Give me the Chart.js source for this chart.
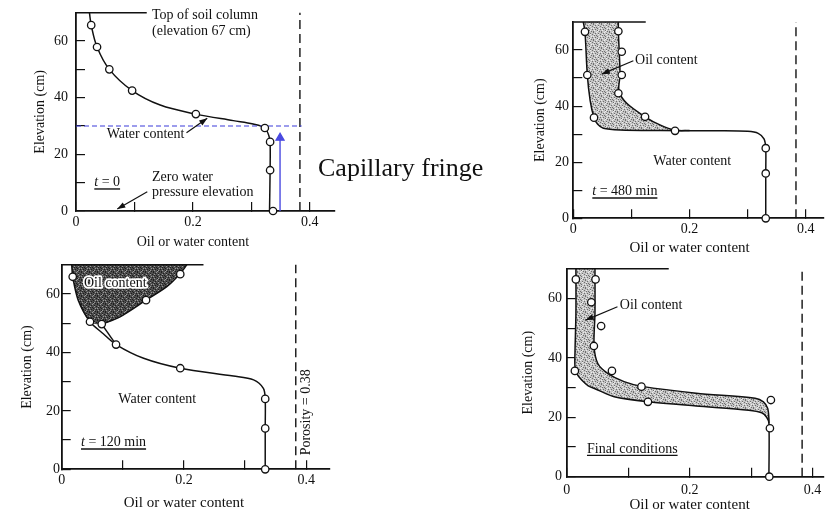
<!DOCTYPE html>
<html><head><meta charset="utf-8">
<script src="https://cdn.jsdelivr.net/npm/chart.js@4.4.1/dist/chart.umd.min.js"></script>
<style>
html,body{margin:0;padding:0;background:#fff;}
#wrap{position:relative;width:829px;height:518px;overflow:hidden;background:#fff;}
canvas{position:absolute;left:0;top:0;}
#cap{position:absolute;left:318px;top:153px;font:26px 'Liberation Serif','Times New Roman',serif;color:#111;white-space:nowrap;line-height:30px;}
</style></head><body>
<div id="wrap">
<canvas id="c1" width="829" height="518"></canvas>
<canvas id="c2" width="829" height="518"></canvas>
<canvas id="c3" width="829" height="518"></canvas>
<canvas id="c4" width="829" height="518"></canvas>
<div id="cap">Capillary fringe</div>
</div>
<script>
// ---------- shared axis content ----------
const xTickValues = [0, 0.1, 0.2, 0.3, 0.4];
const xTickLabels = ['0', '', '0.2', '', '0.4'];
const yTickValues = [0, 10, 20, 30, 40, 50, 60];
const yTickLabels = ['0', '', '20', '', '40', '', '60'];
const xTitle = 'Oil or water content';
const yTitle = 'Elevation (cm)';
const xTitleCentre = 0.2;
const porosity = 0.383;
const columnTop = 70;

// ---------- panel 1 : t = 0 ----------
const p1WaterCurve = [[0.023,70],[0.026,65.6],[0.036,57.9],[0.057,50],[0.096,42.5],[0.144,37.4],[0.205,34.2],[0.269,31.9],[0.303,30.7],[0.323,29.3],[0.330,26.5],[0.332,24.4],[0.332,14.4],[0.331,0]];
const p1WaterObs = [[0.026,65.6],[0.036,57.9],[0.057,50],[0.096,42.5],[0.205,34.2],[0.323,29.3],[0.332,24.4],[0.332,14.4],[0.337,0]];
const p1TopLineEnd = 0.121;
const p1FringeLevel = 30;
const p1FringeEnd = 0.386;
const p1ArrowX = 0.349;
const p1ArrowTip = 25.8;

// ---------- panel 2 : t = 480 min ----------
const p2WaterCurve = [[0.0172,70],[0.0201,66.5],[0.0241,51.1],[0.029,42],[0.0356,35.9],[0.042,33.5],[0.0516,32.1],[0.0804,31.5],[0.15,31.3],[0.25,31.2],[0.3,31.0],[0.318,30.3],[0.328,28.3],[0.331,25],[0.331,16],[0.331,0]];
const p2TotalCurve = [[0.0775,70],[0.0775,66.7],[0.079,59.4],[0.0804,51.1],[0.0785,45.5],[0.0919,41],[0.1234,36.2],[0.149,33.3],[0.175,31.4],[0.2,31.3]];
const p2Obs = [[0.0201,66.5],[0.0775,66.7],[0.0833,59.4],[0.0241,51.1],[0.0833,51.1],[0.0775,44.6],[0.0356,35.9],[0.1234,36.2],[0.175,31.2],[0.331,25],[0.331,16],[0.331,0]];
const p2TopLineEnd = 0.1246;

// ---------- panel 3 : t = 120 min ----------
const p3WaterCurve = [[0.0164,70],[0.018,65.9],[0.027,57.9],[0.0463,50.5],[0.068,46.4],[0.0889,42.7],[0.134,38],[0.194,34.6],[0.281,31.9],[0.314,30.6],[0.330,27.7],[0.333,24.1],[0.333,14],[0.333,0]];
const p3TotalCurve = [[0.2047,70],[0.194,67],[0.172,62.5],[0.138,57.9],[0.0955,52.2],[0.0655,49.7]];
const p3Connector = [[0.0655,49.7],[0.0889,42.7]];
const p3Obs = [[0.018,65.9],[0.194,66.8],[0.138,57.9],[0.0463,50.5],[0.0655,49.7],[0.0889,42.7],[0.194,34.6],[0.333,24.1],[0.333,14],[0.333,0]];
const p3TopLineEnd = 0.232;

// ---------- panel 4 : final conditions ----------
const p4WaterCurve = [[0.015,70],[0.015,55],[0.0135,42],[0.0135,37],[0.017,34.5],[0.024,32.6],[0.035,30.6],[0.0506,29.2],[0.0773,26.9],[0.1333,25.2],[0.2106,23.8],[0.296,22.4],[0.3173,21.5],[0.3253,20.0],[0.329,18.0],[0.329,0]];
const p4TotalCurve = [[0.046,70],[0.046,55],[0.0445,44],[0.0506,38.1],[0.0666,34.8],[0.0933,32.0],[0.1226,30.4],[0.2106,28.1],[0.3066,26.4],[0.32,25.2],[0.3269,23.0],[0.329,19.5],[0.329,18.0]];
const p4Obs = [[0.0149,66.4],[0.0469,66.4],[0.040,58.7],[0.056,50.7],[0.0442,44.0],[0.0133,35.6],[0.0736,35.6],[0.1216,30.3],[0.1322,25.2],[0.3322,25.8],[0.3306,16.3],[0.3296,0]];
const p4TopLineEnd = 0.166;

// ---------- annotation texts (data coordinates) ----------
const p1Texts = [
  {x:0.130, y:69.2, text:'Top of soil column'},
  {x:0.130, y:63.5, text:'(elevation 67 cm)'},
  {x:0.0524, y:27.1, text:'Water content'},
  {x:0.0313, y:10.0, parts:[['t',true],[' = 0',false]], underline:true},
  {x:0.130, y:11.8, text:'Zero water'},
  {x:0.130, y:6.5, text:'pressure elevation'}
];
const p1Arrows = [{from:[0.189,27.6], to:[0.2245,32.7]}, {from:[0.1219,6.8], to:[0.0706,0.7]}];
const p2Texts = [
  {x:0.1062, y:56.4, text:'Oil content'},
  {x:0.1377, y:20.2, text:'Water content'},
  {x:0.0327, y:9.5, parts:[['t',true],[' = 480 min',false]], underline:true}
];
const p2Arrows = [{from:[0.1033,56.2], to:[0.0489,51.4]}];
const p3Texts = [
  {x:0.0365, y:63.7, text:'Oil content', halo:true},
  {x:0.0927, y:24.1, text:'Water content'},
  {x:0.0316, y:9.1, parts:[['t',true],[' = 120 min',false]], underline:true},
  {x:0.401, y:19.5, text:'Porosity = 0.38', rotate:true}
];
const p3Arrows = [];
const p4Texts = [
  {x:0.0864, y:57.8, text:'Oil content'},
  {x:0.033, y:9.3, text:'Final conditions', underline:true}
];
const p4Arrows = [{from:[0.0826,57.2], to:[0.0309,52.7]}];

// ---------- helpers ----------
const FONT = "'Liberation Serif','Times New Roman',serif";
Chart.defaults.font.family = FONT;
Chart.defaults.color = '#111';
const INK = '#111';
const pts = arr => arr.map(([x, y]) => ({x, y}));

function stipple(canvasId, base, dark, light) {
  const c = document.createElement('canvas'); c.width = 8; c.height = 8;
  const g = c.getContext('2d');
  g.fillStyle = base; g.fillRect(0, 0, 8, 8);
  const map = ['.x..o...','...x..x.','x.o...o.','..x.x...','.o...x.o','x..x....','..o..xo.','.x...o.x'];
  map.forEach((row, j) => row.split('').forEach((ch, i) => {
    if (ch === 'x') { g.fillStyle = dark; g.fillRect(i, j, 1, 1); }
    if (ch === 'o') { g.fillStyle = light; g.fillRect(i, j, 1, 1); }
  }));
  return document.getElementById(canvasId).getContext('2d').createPattern(c, 'repeat');
}

function lineDs(arr, extra) {
  return Object.assign({type:'line', data:pts(arr), borderColor:INK, borderWidth:1.5, pointRadius:0,
    fill:false, tension:0, clip:6, order:5}, extra || {});
}
function obsDs(arr) {
  return {type:'scatter', data:pts(arr), pointRadius:3.7, pointHoverRadius:3.7, pointBackgroundColor:'#fff',
    pointBorderColor:INK, pointBorderWidth:1.3, showLine:false, clip:false, order:0};
}
function bandDs(total, water, pattern) {
  const lastY = total[total.length - 1][1];
  const poly = total.concat(water.filter(p => p[1] > lastY).reverse());
  return {type:'line', data:pts(poly), borderWidth:0, borderColor:'rgba(0,0,0,0)', backgroundColor:pattern,
    fill:'shape', pointRadius:0, tension:0.3, clip:6, order:20};
}
function frameDs(topEnd) {
  return [
    lineDs([[0, columnTop], [topEnd, columnTop]], {borderWidth:1.6}),
    lineDs([[porosity, 0], [porosity, columnTop]], {borderDash:[9, 5], borderWidth:1.4})
  ];
}

function notesPlugin(texts, arrows, xTitleSize, xTitleDy) {
  return {
    id: 'notes',
    afterDatasetsDraw(chart) {
      const {ctx} = chart; const sx = chart.scales.x, sy = chart.scales.y;
      ctx.save();
      ctx.textBaseline = 'middle';
      // x axis title, centred under the 0.2 tick like the original figure
      ctx.fillStyle = INK; ctx.textAlign = 'center';
      ctx.font = xTitleSize + 'px ' + FONT;
      ctx.fillText(xTitle, sx.getPixelForValue(xTitleCentre), sy.getPixelForValue(0) + xTitleDy);
      for (const t of texts) {
        const px = sx.getPixelForValue(t.x), py = sy.getPixelForValue(t.y);
        const size = t.size || 14;
        ctx.fillStyle = INK;
        if (t.rotate) {
          ctx.save(); ctx.translate(px, py); ctx.rotate(-Math.PI / 2);
          ctx.font = size + 'px ' + FONT; ctx.textAlign = 'center';
          ctx.fillText(t.text, 0, 0); ctx.restore(); continue;
        }
        ctx.textAlign = 'left';
        let cx = px;
        const parts = t.parts || [[t.text, false]];
        for (const [s, it] of parts) {
          ctx.font = (it ? 'italic ' : '') + size + 'px ' + FONT;
          if (t.halo) { ctx.lineWidth = 3.5; ctx.strokeStyle = '#fff'; ctx.lineJoin = 'round'; ctx.strokeText(s, cx, py); }
          ctx.fillStyle = INK; ctx.fillText(s, cx, py);
          cx += ctx.measureText(s).width;
        }
        if (t.underline) {
          ctx.strokeStyle = INK; ctx.lineWidth = 1.4;
          ctx.beginPath(); ctx.moveTo(px, py + size * 0.45); ctx.lineTo(cx, py + size * 0.45); ctx.stroke();
        }
      }
      for (const a of arrows) {
        const x1 = sx.getPixelForValue(a.from[0]), y1 = sy.getPixelForValue(a.from[1]);
        const x2 = sx.getPixelForValue(a.to[0]), y2 = sy.getPixelForValue(a.to[1]);
        ctx.strokeStyle = INK; ctx.fillStyle = INK; ctx.lineWidth = 1.2;
        ctx.beginPath(); ctx.moveTo(x1, y1); ctx.lineTo(x2, y2); ctx.stroke();
        const ang = Math.atan2(y2 - y1, x2 - x1), L = 8, W = 3;
        const c = Math.cos(ang), s = Math.sin(ang);
        ctx.beginPath(); ctx.moveTo(x2, y2);
        ctx.lineTo(x2 - L * c + W * s, y2 - L * s - W * c);
        ctx.lineTo(x2 - L * c - W * s, y2 - L * s + W * c);
        ctx.closePath(); ctx.fill();
      }
      ctx.restore();
    }
  };
}

function makeChart(id, cfg) {
  const zeroPad = s => { s.paddingLeft = 0; s.paddingRight = 0; s.paddingTop = 0; s.paddingBottom = 0; };
  return new Chart(document.getElementById(id), {
    type: 'scatter',
    data: {datasets: cfg.datasets},
    options: {
      responsive: false, animation: false, devicePixelRatio: 1,
      layout: {padding: cfg.padding},
      plugins: {legend: {display: false}, tooltip: {enabled: false}},
      events: [],
      scales: {
        x: {
          type: 'linear', position: 'bottom', min: 0, max: cfg.xMax,
          afterFit: s => { s.height = cfg.H; zeroPad(s); },
          afterBuildTicks: s => { s.ticks = xTickValues.map(v => ({value: v})); },
          ticks: {callback: (v, i) => xTickLabels[i], padding: cfg.xPad, maxRotation: 0, autoSkip: false,
                  font: {size: 14}, color: INK},
          grid: {drawOnChartArea: false, drawTicks: true, tickLength: -9, color: INK, lineWidth: 1.2},
          border: {display: true, color: INK, width: 1.8},
          title: {display: false}
        },
        y: {
          type: 'linear', position: 'left', min: 0, max: columnTop,
          afterFit: s => { s.width = cfg.W; zeroPad(s); },
          afterBuildTicks: s => { s.ticks = yTickValues.map(v => ({value: v})); },
          ticks: {callback: (v, i) => yTickLabels[i], padding: cfg.yPad, autoSkip: false, font: {size: 14}, color: INK},
          grid: {drawOnChartArea: false, drawTicks: true, tickLength: -9, color: INK, lineWidth: 1.2},
          border: {display: true, color: INK, width: 1.8},
          title: {display: true, text: yTitle, font: {size: 14}, color: INK, padding: {top: 2, bottom: 0}}
        }
      }
    },
    plugins: [notesPlugin(cfg.texts, cfg.arrows, cfg.xTitleSize, cfg.xTitleDy)]
  });
}

// ---------- panel 1 ----------
makeChart('c1', {
  padding: {left: 29.6, top: 12.7, right: 494, bottom: 265.6}, W: 46.4, H: 41.4, xMax: 0.443,
  xPad: 11.6, yPad: 17, xTitleSize: 14, xTitleDy: 31, texts: p1Texts, arrows: p1Arrows,
  datasets: [
    obsDs(p1WaterObs),
    lineDs(p1WaterCurve, {tension: 0.35}),
    ...frameDs(p1TopLineEnd),
    lineDs([[0, p1FringeLevel], [p1FringeEnd, p1FringeLevel]], {borderColor: '#3b3bd9', borderDash: [5, 3], borderWidth: 1.2, order: 3}),
    lineDs([[p1ArrowX, 0], [p1ArrowX, p1ArrowTip]], {borderColor: '#4a4ae0', borderWidth: 1.4, order: 3,
      pointRadius: [0, 4.5], pointStyle: 'triangle', pointBackgroundColor: '#4a4ae0', pointBorderColor: '#4a4ae0'})
  ]
});

// ---------- panel 2 ----------
makeChart('c2', {
  padding: {left: 529.6, top: 22, right: 5.7, bottom: 260}, W: 43.7, H: 39.7, xMax: 0.430,
  xPad: 11.3, yPad: 13.3, xTitleSize: 15, xTitleDy: 30, texts: p2Texts, arrows: p2Arrows,
  datasets: [
    obsDs(p2Obs),
    lineDs(p2WaterCurve, {tension: 0.3}),
    lineDs(p2TotalCurve, {tension: 0.3}),
    bandDs(p2TotalCurve, p2WaterCurve, stipple('c2', '#c4c4c4', '#6e6e6e', '#ededed')),
    ...frameDs(p2TopLineEnd)
  ]
});

// ---------- panel 3 ----------
makeChart('c3', {
  padding: {left: 16.6, top: 264.8, right: 499, bottom: 4}, W: 45.1, H: 44.7, xMax: 0.439,
  xPad: 11.8, yPad: 10.7, xTitleSize: 15, xTitleDy: 33.7, texts: p3Texts, arrows: p3Arrows,
  datasets: [
    obsDs(p3Obs),
    lineDs(p3WaterCurve, {tension: 0.3}),
    lineDs(p3TotalCurve, {tension: 0.3}),
    lineDs(p3Connector),
    bandDs(p3TotalCurve, p3WaterCurve, stipple('c3', '#4d4d4d', '#1e1e1e', '#9a9a9a')),
    ...frameDs(p3TopLineEnd)
  ]
});

// ---------- panel 4 ----------
makeChart('c4', {
  padding: {left: 517.6, top: 268.7, right: 0.7, bottom: 2}, W: 49.1, H: 39.3, xMax: 0.4186,
  xPad: 13.9, yPad: 13.7, xTitleSize: 15, xTitleDy: 28.5, texts: p4Texts, arrows: p4Arrows,
  datasets: [
    obsDs(p4Obs),
    lineDs(p4WaterCurve, {tension: 0.3}),
    lineDs(p4TotalCurve, {tension: 0.3}),
    bandDs(p4TotalCurve, p4WaterCurve, stipple('c4', '#c4c4c4', '#6e6e6e', '#ededed')),
    ...frameDs(p4TopLineEnd)
  ]
});
</script>
</body></html>
